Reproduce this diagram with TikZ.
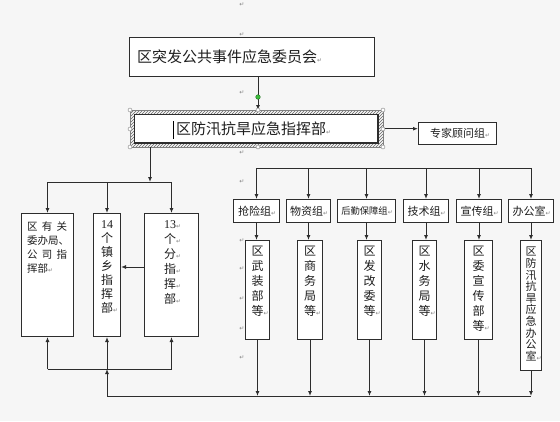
\documentclass[tikz,border=0pt]{standalone}
\usepackage{fontspec}
\setmainfont{Noto Sans CJK SC}
\newfontfamily\numfont{Liberation Serif}
\newfontfamily\symfont{DejaVu Sans}
\usetikzlibrary{arrows.meta,patterns}
\definecolor{bgc}{RGB}{246,246,246}
\definecolor{linec}{RGB}{45,45,45}
\definecolor{txt}{RGB}{30,30,30}
\definecolor{pmc}{RGB}{130,130,130}
\definecolor{hgreen}{RGB}{60,190,60}
\newcommand\pmark{{\symfont\color{pmc}\fontsize{6}{6}\selectfont ↵}}
\newcommand\pmr{\rlap{\pmark}}
\tikzset{
  box/.style={draw=linec, line width=1pt, fill=white, inner sep=0pt, anchor=north west},
  conn/.style={draw=linec, line width=1pt},
  arr/.style={conn, -{Latex[length=5pt,width=4pt]}},
  pm/.style={text=pmc, font=\symfont\fontsize{6}{6}\selectfont, inner sep=0pt},
  lbl/.style={text=txt, inner sep=0pt, font=\fontsize{11}{11}\selectfont},
  vt/.style={text=txt, inner sep=0pt, align=center, anchor=north, font=\fontsize{12}{15}\selectfont},
  handle/.style={draw=gray, fill=white, line width=0.4pt},
}
\begin{document}
\begin{tikzpicture}[x=1pt,y=-1pt]
\useasboundingbox (0,0) rectangle (560,421);
\fill[bgc] (0,0) rectangle (560,421);

% paragraph marks
\foreach \yy [count=\i] in {5,35,93,153,182,241,269,299,329,358}
  \node[pm] (pm\i) at (242,\yy) {↵};

% top committee
\node[box, minimum width=245pt, minimum height=39pt] (top) at (129,37) {};
\node[lbl, anchor=west, font=\fontsize{15}{15}\selectfont] (topt) at ([xshift=8pt]top.west) {区突发公共事件应急委员会\pmark};

% HQ with hatched selection frame
\node[inner sep=0pt, minimum width=253pt, minimum height=37pt, anchor=north west] (frame) at (130,110) {};
\node[box, minimum width=243pt, minimum height=28pt] (hq) at (134,114) {};
\fill[pattern=north east lines, pattern color=gray!80!black, even odd rule]
  (frame.north west) rectangle (frame.south east) (hq.north west) rectangle (hq.south east);
\draw[gray, line width=0.4pt] (frame.north west) rectangle (frame.south east);
\draw[linec, line width=1pt] (hq.north west) rectangle (hq.south east);
\node[lbl, anchor=west, font=\fontsize{15}{15}\selectfont] (hqt) at (176,129) {区防汛抗旱应急指挥部\pmark};
\draw[black, line width=1pt] (173,121) -- (173,139);

% expert group
\node[box, minimum width=78pt, minimum height=22pt] (exp) at (418,122) {};
\node[lbl] (expt) at (exp.center) {专家顾问组\pmr};

% top -> hq
\coordinate (tc) at (258,0);
\draw[arr] (tc |- top.south) -- (tc |- frame.north);
\draw[arr] (frame.east) -- (frame.east -| exp.west);

% selection handles
\foreach \hx/\hy in {130/110,258/110,383/110,130/129,383/129,130/147,258/147,383/147}
  \filldraw[handle] (\hx,\hy) circle (2pt);
\filldraw[draw=hgreen!60!black, fill=hgreen, line width=0.4pt] (258,97) circle (2.3pt);

% left branch boxes
\node[box, minimum width=52pt, minimum height=123pt] (b1) at (21,213) {};
\node[box, minimum width=27pt, minimum height=123pt] (b2) at (93,213) {};
\node[box, minimum width=54pt, minimum height=123pt] (b3) at (144,213) {};
\node[lbl, anchor=north west, align=left, font=\fontsize{10.5}{14}\selectfont] (b1t) at (27,221)
  {\makebox[40pt][s]{区\hfill 有\hfill 关}\\委办局、\\\makebox[40pt][s]{公\hfill 司\hfill 指}\\挥部\pmark};
\node[vt, font=\fontsize{12}{14}\selectfont] (b2t) at (107,220)
  {{\numfont 14}\\个\\镇\\乡\\指\\挥\\部\pmr};
\node[vt] (b3t) at (170,220)
  {{\numfont 13}\pmr\\个\pmr\\分\pmr\\指\pmr\\挥\pmr\\部\pmr};

\coordinate (lv) at (150,182);
\draw[arr] (lv |- frame.south) -- (lv);
\draw[conn] (b1.north |- lv) -- (b3.north |- lv);
\draw[arr] (b1.north |- lv) -- (b1.north);
\draw[arr] (b2.north |- lv) -- (b2.north);
\draw[arr] (b3.north |- lv) -- (b3.north);
\coordinate (mid) at (0,267);
\draw[arr] (b3.west |- mid) -- (b2.east |- mid);

\coordinate (lb) at (0,369);
\coordinate (bot) at (0,396);
\draw[conn] (b1.south |- lb) -- (b3.south |- lb);
\draw[arr] (b1.south |- lb) -- (b1.south);
\draw[arr] (b2.south |- lb) -- (b2.south);
\draw[arr] (b3.south |- lb) -- (b3.south);
\draw[arr] (b2.south |- bot) -- (b2.south |- lb);

% right groups
\node[box, minimum width=46pt, minimum height=23pt] (g1) at (233,199) {};
\node[box, minimum width=44pt, minimum height=23pt] (g2) at (286,199) {};
\node[box, minimum width=58pt, minimum height=23pt] (g3) at (337,199) {};
\node[box, minimum width=45pt, minimum height=23pt] (g4) at (403,199) {};
\node[box, minimum width=45pt, minimum height=23pt] (g5) at (456,199) {};
\node[box, minimum width=45pt, minimum height=23pt] (g6) at (508,199) {};
\node[lbl] (g1t) at ([xshift=-2pt]g1.center) {抢险组\pmr};
\node[lbl] (g2t) at ([xshift=-2pt]g2.center) {物资组\pmr};
\node[lbl, font=\fontsize{9.3}{9.3}\selectfont] (g3t) at ([xshift=-2pt]g3.center) {后勤保障组\pmr};
\node[lbl] (g4t) at ([xshift=-2pt]g4.center) {技术组\pmr};
\node[lbl] (g5t) at ([xshift=-2pt]g5.center) {宣传组\pmr};
\node[lbl] (g6t) at ([xshift=-2pt]g6.center) {办公室\pmr};

\coordinate (rt) at (0,168);
\draw[conn] (g1.north |- rt) -- (g6.north |- rt);
\foreach \g in {g1,g2,g3,g4,g5,g6}
  \draw[arr] (\g.north |- rt) -- (\g.north);

% right second-level boxes
\node[box, minimum width=24pt, minimum height=99pt] (s1) at (245,240) {};
\node[box, minimum width=25pt, minimum height=99pt] (s2) at (297,240) {};
\node[box, minimum width=24pt, minimum height=99pt] (s3) at (357,240) {};
\node[box, minimum width=24pt, minimum height=99pt] (s4) at (412,240) {};
\node[box, minimum width=28pt, minimum height=99pt] (s5) at (464,240) {};
\node[box, minimum width=21pt, minimum height=130pt] (s6) at (520,240) {};
\node[vt] (s1t) at ([yshift=-6pt]s1.north) {区\\武\\装\\部\\等\pmr};
\node[vt] (s2t) at ([yshift=-6pt]s2.north) {区\\商\\务\\局\\等\pmr};
\node[vt] (s3t) at ([yshift=-6pt]s3.north) {区\\发\\改\\委\\等\pmr};
\node[vt] (s4t) at ([yshift=-6pt]s4.north) {区\\水\\务\\局\\等\pmr};
\node[vt] (s5t) at ([yshift=-6pt]s5.north) {区\\委\\宣\\传\\部\\等\pmr};
\node[vt, font=\fontsize{11}{11.6}\selectfont] (s6t) at ([yshift=-7pt]s6.north) {区\\防\\汛\\抗\\旱\\应\\急\\办\\公\\室\pmr};

\foreach \i in {1,...,6}
  \draw[arr] (g\i.south) -- (g\i.south |- s\i.north);

% bottom bus
\draw[conn] (b2.south |- bot) -- (s6.south |- bot);
\foreach \i in {1,...,6}
  \draw[arr] (s\i.south) -- (s\i.south |- bot);
\end{tikzpicture}
\end{document}
